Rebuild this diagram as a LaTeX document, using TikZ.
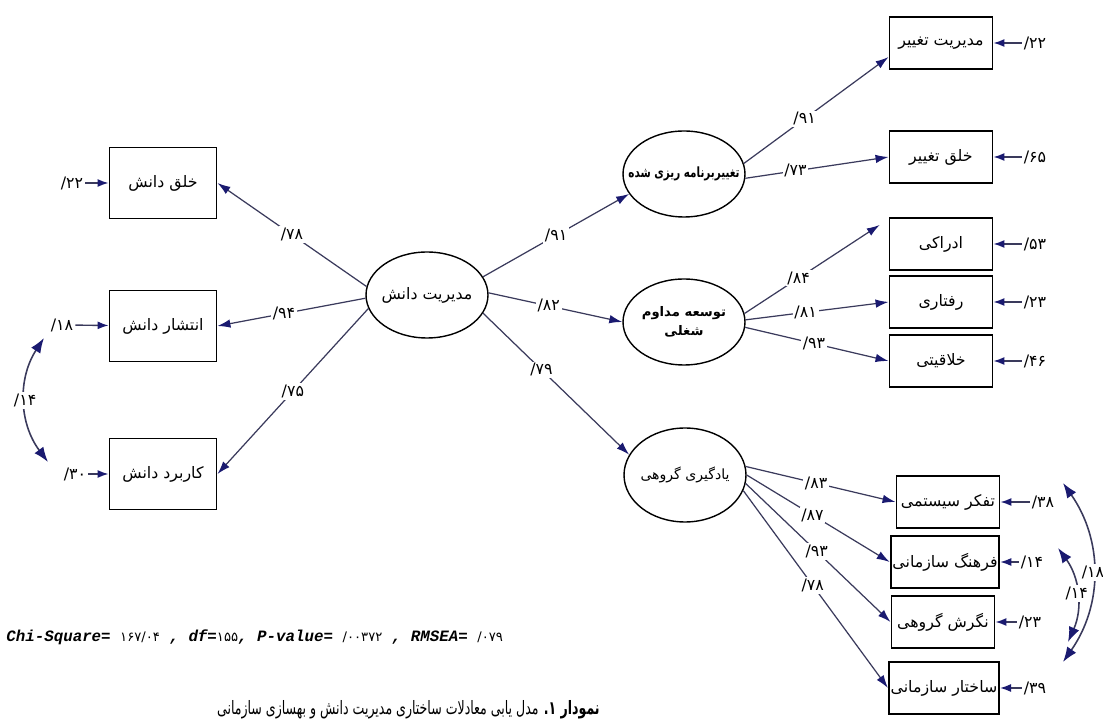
\documentclass[tikz,border=0pt]{standalone}
\usepackage{fontspec}
\newfontfamily\fa[Script=Arabic]{DejaVu Sans}
\newfontfamily\numfont{DejaVu Sans}
\setmonofont{Liberation Mono}
\TeXXeTstate=1
\usetikzlibrary{arrows.meta,positioning,shapes.geometric}
\definecolor{pathline}{HTML}{3A3A5C}
\definecolor{tipnavy}{HTML}{1A1A70}
\newcommand{\fatxt}[1]{{\fa\beginR#1\endR}}
\newcommand{\latlabel}[1]{\makebox[0pt]{\fatxt{#1}}}
\newcommand{\fitnum}[1]{{\numfont\upshape\mdseries\fontsize{7.5}{9}\selectfont #1}}

\begin{document}
\begin{tikzpicture}[x=0.02cm,y=-0.02cm,font=\fa\fontsize{9}{11}\selectfont,
 latent/.style={draw,ellipse,line width=0.8pt,minimum width=2.44cm,minimum height=1.72cm,inner sep=1pt,align=center},
 indic/.style={draw,line width=1.1pt,minimum width=2.06cm,minimum height=1.04cm,inner sep=1pt},
 bigindic/.style={indic,minimum width=2.14cm,minimum height=1.42cm},
 err/.style={inner sep=1pt,font=\numfont\fontsize{9}{11}\selectfont},
 load/.style={draw=pathline,line width=0.7pt,-{Latex[length=2.6mm,width=1.7mm,color=tipnavy]}},
 errarr/.style={draw=pathline,line width=0.8pt,-{Latex[length=2.2mm,width=1.6mm,color=tipnavy]}},
 cov/.style={draw=pathline,line width=0.9pt,{Latex[length=3mm,width=2.2mm,color=tipnavy]}-{Latex[length=3mm,width=2.2mm,color=tipnavy]}},
 coef/.style={fill=white,inner sep=1pt,font=\numfont\fontsize{9}{11}\selectfont}]
\useasboundingbox (0,0) rectangle (1103,722);
% latent variables
\node[latent] (core) at (427,295) {\latlabel{مدیریت دانش}};
\node[latent] (plan) at (684,174) {\fontsize{8}{9}\selectfont\bfseries\makebox[0pt]{\scalebox{0.74}[1]{\fatxt{تغییربرنامه ریزی شده}}}};
\node[latent] (career) at (684,322) {\fontsize{7.5}{11}\selectfont\bfseries\latlabel{توسعه مداوم}\\\fontsize{7.5}{11}\selectfont\bfseries\latlabel{شغلی}};
\node[latent,minimum height=1.88cm] (team) at (685,475) {\fontsize{8}{10}\selectfont\latlabel{یادگیری گروهی}};
% indicators, left
\node[bigindic] (know1) at (163,183) {\fatxt{خلق دانش}};
\node[bigindic] (know2) at (163,326) {\fatxt{انتشار دانش}};
\node[bigindic] (know3) at (163,474) {\fatxt{کاربرد دانش}};
% indicators, right
\node[indic] (chg1) at (941,43) {\fatxt{مدیریت تغییر}};
\node[indic] (chg2) at (941,157) {\fatxt{خلق تغییر}};
\node[indic] (dev1) at (941,244) {\fatxt{ادراکی}};
\node[indic] (dev2) at (941,302) {\fatxt{رفتاری}};
\node[indic] (dev3) at (941,361) {\fatxt{خلاقیتی}};
\node[indic] (team1) at (948,502) {\fatxt{تفکر سیستمی}};
\node[indic] (team2) at (945,562) {\fatxt{فرهنگ سازمانی}};
\node[indic] (team3) at (943,622) {\fatxt{نگرش گروهی}};
\node[indic] (team4) at (944,688) {\fatxt{ساختار سازمانی}};
% error terms
\node[err] (e22) at (72,183) {/۲۲};
\node[err] (e18) at (62,325) {/۱۸};
\node[err] (e30) at (75,474) {/۳۰};
\node[err] (r22) at (1035,43) {/۲۲};
\node[err] (r65) at (1035,157) {/۶۵};
\node[err] (r53) at (1035,244) {/۵۳};
\node[err] (r23) at (1035,302) {/۲۳};
\node[err] (r46) at (1035,361) {/۴۶};
\node[err] (t38) at (1043,502) {/۳۸};
\node[err] (t14) at (1032,562) {/۱۴};
\node[err] (t23) at (1030,622) {/۲۳};
\node[err] (t39) at (1035,688) {/۳۹};
\foreach \e/\b in {e22/know1,e18/know2,e30/know3,r22/chg1,r65/chg2,r53/dev1,r23/dev2,r46/dev3,t38/team1,t14/team2,t23/team3,t39/team4}
 \draw[errarr] (\e) -- (\b);
% loadings
\draw[load] (core.172) -- node[coef,pos=.5] {/۷۸} (know1.east);
\draw[load] (core.183) -- node[coef,pos=.55] {/۹۴} (know2.east);
\draw[load] (core.193) -- node[coef,pos=.5] {/۷۵} (know3.east);
\draw[load] (core.18) -- node[coef,pos=.5] {/۹۱} (plan.200);
\draw[load] (core.2) -- node[coef,pos=.45] {/۸۲} (career.west);
\draw[load] (core.-18) -- node[coef,pos=.4] {/۷۹} (team.160);
\draw[load] (plan.10) -- node[coef,pos=.42] {/۹۱} (chg1.195);
\draw[load] (plan.-4) -- node[coef,pos=.35] {/۷۳} (chg2.west);
\draw[load] (career.8) -- node[coef,pos=.4] {/۸۴} ([xshift=-5pt]dev1.160);
\draw[load] (career.2) -- node[coef,pos=.42] {/۸۱} (dev2.west);
\draw[load] (career.-5) -- node[coef,pos=.48] {/۹۳} (dev3.west);
\draw[load] (team.8) -- node[coef,pos=.47] {/۸۳} (team1.west);
\draw[load] (team.0) -- node[coef,pos=.46] {/۸۷} (team2.west);
\draw[load] (team.-8) -- node[coef,pos=.49] {/۹۳} (team3.west);
\draw[load] (team.-15) -- node[coef,pos=.48] {/۷۸} (team4.west);
% error covariances
\coordinate (c18) at (44,338);
\coordinate (c30) at (48,462);
\coordinate (c38) at (1063,483);
\coordinate (c39) at (1063,662);
\coordinate (c14) at (1058,548);
\coordinate (c23) at (1068,642);
\draw[cov] (c18) to[bend right=35] node[coef] {/۱۴} (c30);
\draw[cov] (c38) to[bend left=35] node[coef] {/۱۸} (c39);
\draw[cov] (c14) to[bend left=30] node[coef] {/۱۴} (c23);
% fit indices and caption
\node[anchor=west,inner sep=0] (fit) at (6,637) {\ttfamily\bfseries\itshape\fontsize{9}{10}\selectfont
 Chi-Square= \fitnum{۱۶۷/۰۴} , df=\fitnum{۱۵۵}, P-value= \fitnum{/۰۰۳۷۲} , RMSEA= \fitnum{/۰۷۹}};
\node[anchor=east,inner sep=0] (caption) at (600,710) {\fontsize{10.5}{12}\selectfont\scalebox{0.68}[1]{\fatxt{\textbf{نمودار ۱.} مدل یابی معادلات ساختاری مدیریت دانش و بهسازی سازمانی}}};
\end{tikzpicture}
\end{document}
